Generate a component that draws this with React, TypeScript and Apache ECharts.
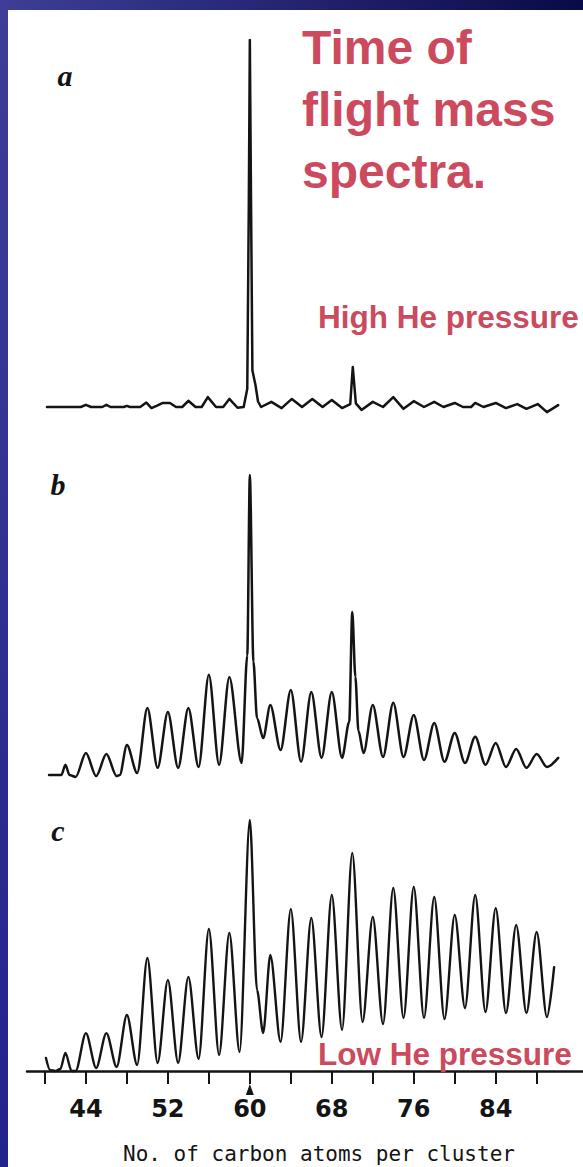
import { useEffect, useRef } from "react";
import * as echarts from "echarts";

// Carbon-number axis: tick marks every 4 atoms, labels every 8.
const tickValues = [40, 44, 48, 52, 56, 60, 64, 68, 72, 76, 80, 84, 88];
const labelValues = [44, 52, 60, 68, 76, 84];
// Cluster marked with a small arrow under the axis.
const markedCluster = [60];

// Spectra as [carbon atoms per cluster, relative intensity (C60 = 100)].
// a: high He pressure
const spectrumA: [number, number][] = [
  [40.2, 0], [43.5, 0], [44.0, 0.6], [44.5, 0], [45.6, 0], [46.0, 0.6], [46.4, 0],
  [47.7, 0], [48.0, 0.3], [48.3, 0], [49.3, 0], [49.9, 1.2], [50.4, -0.3], [50.9, 0.3],
  [51.5, 1.1], [52.2, 1.1], [52.8, 0], [53.4, 0], [54.0, 1.7], [54.7, 0], [55.3, 0],
  [55.9, 2.7], [56.7, 0], [57.4, 0], [58.0, 2.2], [58.8, -0.2], [59.4, 0], [59.75, 5],
  [59.9, 55], [60.0, 100], [60.12, 55], [60.25, 10], [60.55, 6], [60.8, 1.5], [61.1, 0],
  [62.1, 1.4], [63.1, -0.3], [64.1, 2.2], [65.1, 0], [66.1, 2.2], [67.1, 0], [68.0, 1.9],
  [69.0, -0.3], [69.8, 0.8], [70.05, 10.9], [70.35, 1], [70.9, -0.8], [72.0, 1.4],
  [73.0, 0], [74.0, 2.7], [75.0, -0.5], [76.0, 1.6], [77.0, 0], [78.0, 1.4], [78.9, 0],
  [80.0, 1.1], [80.8, 0], [81.6, 0], [82.0, 1.1], [82.8, 0], [84.0, 1.1], [85.0, -0.3],
  [86.1, 0.8], [87.0, -0.5], [88.1, 0.8], [89.0, -1.4], [90.1, 0.5],
];

// b: intermediate pressure
const spectrumB: [number, number][] = [
  [40.4, 0.3], [41.6, 0.3], [42.0, 3.7], [42.4, 0.3], [43.0, -0.3], [44.0, 7.6],
  [45.0, 0], [46.0, 7.3], [47.0, 0], [47.3, 0.3], [48.0, 10.3], [49.0, 1], [50.0, 22.6],
  [51.0, 2.7], [52.0, 21.3], [53.0, 2.7], [54.0, 22.6], [55.0, 3], [56.0, 33.6],
  [57.0, 3.7], [58.0, 32.9], [59.2, 4.3], [59.75, 40], [60.0, 100], [60.35, 38],
  [60.7, 19.3], [61.3, 12.6], [62.0, 23.6], [63.0, 8.6], [64.0, 28.6], [65.0, 4.7],
  [66.0, 27.9], [67.0, 6], [68.0, 27.9], [69.0, 6], [69.7, 18], [70.0, 54.5],
  [70.3, 33], [70.6, 15], [71.1, 7.6], [72.0, 23.6], [73.0, 6.3], [74.0, 24.3],
  [75.0, 6.3], [76.0, 20.3], [77.0, 5.3], [78.0, 17.6], [79.0, 4.7], [80.0, 14.3],
  [81.0, 4.3], [82.0, 13], [83.0, 3.7], [84.0, 11], [85.0, 3], [86.0, 9], [87.0, 2.7],
  [88.0, 7.3], [89.0, 3], [90.1, 6],
];

// c: low He pressure
const spectrumC: [number, number][] = [
  [40.1, 5.2], [40.5, 0.4], [41.0, 0], [41.5, 0.8], [42.0, 7.2], [42.6, 0], [43.0, 0],
  [44.0, 15.1], [45.0, 1.2], [46.0, 15.1], [47.0, 1.6], [48.0, 22.3], [49.0, 2.4],
  [50.0, 45], [51.0, 3.2], [52.0, 36.3], [53.0, 3.2], [54.0, 37.5], [55.0, 4.8],
  [56.0, 56.6], [57.0, 6.4], [58.0, 55], [59.0, 7.6], [60.0, 100], [60.7, 32.3],
  [61.3, 15.1], [62.0, 46.2], [63.0, 11.6], [64.0, 64.5], [65.0, 11.6], [66.0, 61],
  [67.0, 13.5], [68.0, 70.1], [69.0, 16.3], [70.0, 86.9], [71.0, 19.5], [72.0, 61.4],
  [73.0, 18.7], [74.0, 72.9], [75.0, 21.1], [76.0, 73.3], [77.0, 21.1], [78.0, 69.3],
  [79.0, 20.7], [80.0, 62.2], [81.0, 25.1], [82.0, 70.1], [83.0, 23.5], [84.0, 64.9],
  [85.0, 23.1], [86.0, 58.2], [87.0, 23.1], [88.0, 55.4], [89.0, 21.5], [89.7, 41.4],
];

const panelLetters = ["a", "b", "c"];
const titleLines = ["Time of", "flight mass", "spectra."];
const pressureLabels = ["High He pressure", "Low He pressure"];
const axisTitle = "No. of carbon atoms per cluster";

const X_MIN = 38.25;
const X_MAX = 92.52;
const INK = "#141414";
const ACCENT = "#cc4a5d";

export default function App() {
  const ref = useRef<HTMLDivElement>(null);

  useEffect(() => {
    const chart = echarts.init(ref.current!, null, { renderer: "svg" });

    const gridBase = { left: 27, width: 556 };
    const hiddenX = (gridIndex: number) => ({
      gridIndex,
      type: "value",
      min: X_MIN,
      max: X_MAX,
      show: false,
    });
    const hiddenY = (gridIndex: number, min: number) => ({
      gridIndex,
      type: "value",
      min,
      max: 100,
      show: false,
    });
    const spectrum = (
      idx: number,
      data: [number, number][],
      smooth: number,
      width: number,
    ) => ({
      type: "line",
      xAxisIndex: idx,
      yAxisIndex: idx,
      data,
      showSymbol: false,
      smooth,
      smoothMonotone: "x",
      silent: true,
      lineStyle: { color: INK, width, join: "round", cap: "round" },
      z: 5,
    });

    const redText = (text: string, x: number, y: number, size: number) => ({
      type: "text",
      x,
      y,
      z: 50,
      style: {
        text,
        fill: ACCENT,
        fontFamily: "Liberation Sans, Arial, sans-serif",
        fontWeight: "bold",
        fontSize: size,
        align: "left",
        verticalAlign: "middle",
      },
    });
    const letter = (text: string, x: number, y: number) => ({
      type: "text",
      x,
      y,
      z: 50,
      style: {
        text,
        fill: INK,
        fontFamily: "Liberation Serif, Times New Roman, serif",
        fontStyle: "italic",
        fontWeight: "bold",
        fontSize: 30,
        align: "center",
        verticalAlign: "middle",
      },
    });

    chart.setOption({
      animation: false,
      graphic: {
        elements: [
          {
            type: "rect",
            z: -100,
            shape: { x: 0, y: 0, width: 583, height: 1167 },
            style: {
              fill: new echarts.graphic.LinearGradient(0, 0, 0, 1, [
                { offset: 0, color: "#3e3e98" },
                { offset: 1, color: "#23238c" },
              ]),
            },
          },
          {
            type: "rect",
            z: -99,
            shape: { x: 0, y: 0, width: 583, height: 10 },
            style: {
              fill: new echarts.graphic.LinearGradient(0, 0, 1, 0, [
                { offset: 0, color: "#3e3e98" },
                { offset: 1, color: "#0a0a48" },
              ]),
            },
          },
          {
            type: "rect",
            z: -98,
            shape: { x: 8, y: 10, width: 575, height: 1157 },
            style: { fill: "#ffffff" },
          },
          letter(panelLetters[0], 65, 75),
          letter(panelLetters[1], 58, 484),
          letter(panelLetters[2], 58, 830),
          redText(titleLines[0], 302, 47, 48),
          redText(titleLines[1], 302, 109, 48),
          redText(titleLines[2], 302, 171, 48),
          redText(pressureLabels[0], 318, 317, 31.5),
          redText(pressureLabels[1], 318, 1054, 31.5),
          {
            type: "text",
            x: 123,
            y: 1154,
            z: 50,
            style: {
              text: axisTitle,
              fill: INK,
              fontFamily: "DejaVu Sans Mono, monospace",
              fontSize: 21,
              align: "left",
              verticalAlign: "middle",
            },
          },
        ],
      },
      grid: [
        { ...gridBase, top: 40, height: 385.35 },
        { ...gridBase, top: 475, height: 316.05 },
        { ...gridBase, top: 820, height: 264.05 },
      ],
      xAxis: [
        hiddenX(0),
        hiddenX(1),
        {
          gridIndex: 2,
          type: "value",
          min: X_MIN,
          max: X_MAX,
          position: "bottom",
          splitLine: { show: false },
          axisLine: { show: true, lineStyle: { color: INK, width: 2.5 } },
          axisTick: {
            show: true,
            inside: false,
            length: 6,
            customValues: tickValues,
            lineStyle: { color: INK, width: 2 },
          },
          axisLabel: {
            customValues: labelValues,
            margin: 13,
            color: INK,
            fontFamily: "DejaVu Sans, sans-serif",
            fontWeight: "bold",
            fontSize: 24,
          },
        },
        {
          gridIndex: 2,
          type: "value",
          min: X_MIN,
          max: X_MAX,
          position: "bottom",
          splitLine: { show: false },
          axisLine: { show: false },
          axisLabel: { show: false },
          axisTick: {
            show: true,
            inside: true,
            length: 7,
            customValues: tickValues,
            lineStyle: { color: INK, width: 2 },
          },
        },
      ],
      yAxis: [hiddenY(0, -5), hiddenY(1, -5), hiddenY(2, -5.2)],
      series: [
        spectrum(0, spectrumA, 0, 2.5),
        spectrum(1, spectrumB, 0.3, 2.5),
        spectrum(2, spectrumC, 0.3, 2.4),
        {
          type: "scatter",
          xAxisIndex: 2,
          yAxisIndex: 2,
          data: markedCluster.map((n) => [n, -7.4]),
          symbol: "triangle",
          symbolSize: [8, 11],
          itemStyle: { color: INK, opacity: 1 },
          clip: false,
          silent: true,
          z: 6,
        },
      ],
    });

    return () => chart.dispose();
  }, []);

  return (
    <div
      ref={ref}
      style={{ position: "absolute", left: 0, top: 0, width: 583, height: 1167 }}
    />
  );
}
